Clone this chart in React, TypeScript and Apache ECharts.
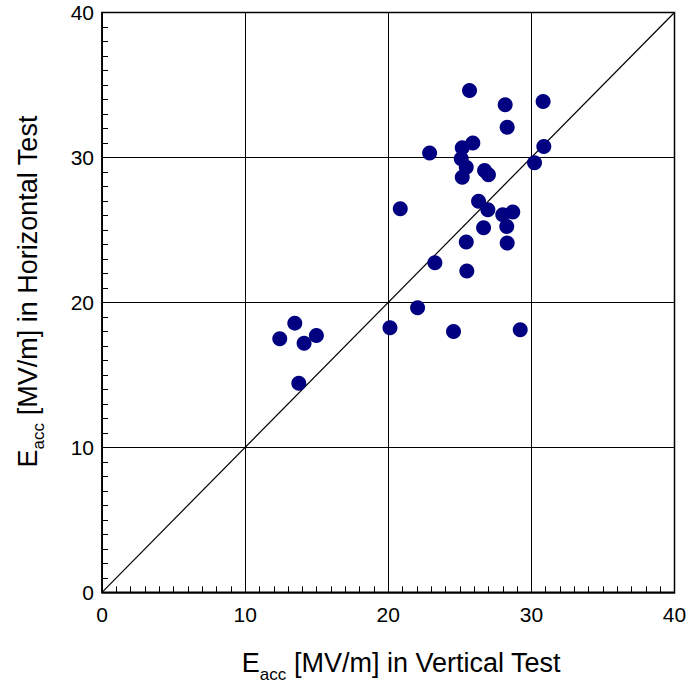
import React, { useEffect, useRef } from "react";
import * as echarts from "echarts";

const verticalTest: number[] = [
  25.68, 28.17, 30.82, 28.31, 25.91, 25.17, 22.89, 30.87, 25.1, 25.45,
  25.17, 26.73, 27.0, 30.22, 20.84, 26.31, 26.96, 28.0, 28.7, 28.28,
  26.66, 25.45, 28.31, 23.26, 25.49, 22.05, 20.12, 24.56, 29.22, 13.47,
  12.42, 14.12, 14.98, 13.75,
];
const horizontalTest: number[] = [
  34.62, 33.63, 33.86, 32.09, 30.99, 30.67, 30.3, 30.76, 29.91, 29.33,
  28.64, 29.1, 28.8, 29.63, 26.46, 26.97, 26.39, 26.05, 26.23, 25.24,
  25.15, 24.16, 24.09, 22.74, 22.16, 19.63, 18.25, 18.0, 18.12, 18.57,
  17.49, 17.19, 17.72, 14.43,
];
const diagonalX: number[] = [0, 40];
const diagonalY: number[] = [0, 40];
const tickValues: number[] = [0, 10, 20, 30, 40];

const FONT = "'Liberation Sans', Arial, sans-serif";

const nameRich = {
  m: { fontSize: 27, lineHeight: 27, verticalAlign: "top" as const, fontFamily: FONT, color: "#000" },
  s: { fontSize: 17, lineHeight: 17, verticalAlign: "top" as const, padding: [16, 0, 0, 0], fontFamily: FONT, color: "#000" },
};

export default function App() {
  const ref = useRef<HTMLDivElement>(null);
  useEffect(() => {
    if (!ref.current) return;
    const chart = echarts.init(ref.current, null, { renderer: "svg" });
    const axisCommon = (name: string, isX: boolean) => ({
      type: "value" as const,
      min: tickValues[0],
      max: tickValues[tickValues.length - 1],
      interval: 10,
      name,
      nameLocation: "middle" as const,
      nameGap: isX ? 57.5 : 61,
      nameTextStyle: {
        rich: nameRich,
        padding: isX ? [0, 0, 0, 26] : [0, 0, 0, 22],
      },
      axisLine: { show: true, lineStyle: { color: "#000", width: 1.5 } },
      axisTick: { show: true, inside: true, length: 7, lineStyle: { color: "#000", width: 1 } },
      minorTick: { show: true, splitNumber: 10, length: 6, lineStyle: { color: "#000", width: 1 } },
      splitLine: { show: true, lineStyle: { color: "#000", width: 1 } },
      axisLabel: {
        fontSize: 21,
        color: "#000",
        fontFamily: FONT,
        margin: isX ? 12 : 8,
        showMinLabel: true,
        showMaxLabel: true,
      },
    });
    chart.setOption({
      animation: false,
      backgroundColor: "#fff",
      grid: {
        left: 102,
        right: 15.5,
        top: 12.5,
        bottom: 91.7,
        containLabel: false,
        outerBoundsMode: "none",
        show: true,
        borderColor: "#000",
        borderWidth: 1.5,
      },
      xAxis: axisCommon("{m|E}{s|acc}{m| [MV/m] in Vertical Test}", true),
      yAxis: axisCommon("{m|E}{s|acc}{m| [MV/m] in Horizontal Test}", false),
      series: [
        {
          type: "line",
          data: diagonalX.map((x, i) => [x, diagonalY[i]]),
          symbol: "none",
          lineStyle: { color: "#000", width: 1.2 },
          z: 2,
          silent: true,
        },
        {
          type: "scatter",
          data: verticalTest.map((x, i) => [x, horizontalTest[i]]),
          symbol: "circle",
          symbolSize: 15,
          itemStyle: { color: "#000080", opacity: 1 },
          z: 3,
        },
      ],
    });
    return () => chart.dispose();
  }, []);
  return <div ref={ref} style={{ width: 690, height: 684, position: "absolute", left: 0, top: 0 }} />;
}
